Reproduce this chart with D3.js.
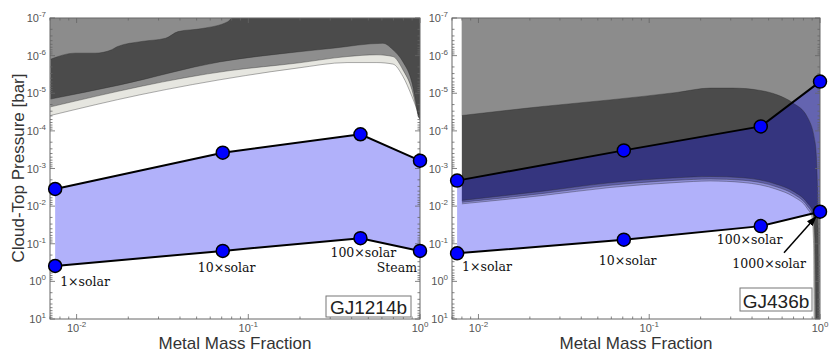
<!DOCTYPE html>
<html>
<head>
<meta charset="utf-8">
<script src="https://cdn.jsdelivr.net/npm/d3@7"></script>
<style>
  body { margin: 0; background: #fff; }
  svg { display: block; }
</style>
</head>
<body>
<svg id="chart" width="830" height="355"></svg>
<script>
// ---- data ----
const metalFraction = [0.0075, 0.071, 0.45, 1];

const gj1214Upper = [3.5e-3, 3.8e-4, 1.23e-4, 6.2e-4];
const gj1214Lower = [0.39, 0.155, 0.071, 0.155];
const gj436Upper = [2.1e-3, 3.3e-4, 7.6e-5, 4.9e-6];
const gj436Lower = [0.18, 0.078, 0.034, 0.0141];

const gj1214Labels = ['1×solar', '10×solar', '100×solar', 'Steam'];
const gj436Labels = ['1×solar', '10×solar', '100×solar', '1000×solar'];

const yTickExps = [-7, -6, -5, -4, -3, -2, -1, 0, 1];
const xTickExps = [-2, -1, 0];

// contour boundaries [metal fraction, pressure]; region above/right of each is that level
const gj1214Lvl1 = [[0.00705, 3.9e-5], [0.0234, 1.1e-5], [0.096, 3.4e-6], [0.192, 2.15e-6], [0.376, 1.53e-6], [0.561, 1.53e-6], [0.696, 1.68e-6], [0.796, 3.6e-6], [0.898, 1.22e-5], [0.96, 2.7e-5], [0.986, 3.9e-5], [1, 4.2e-5]];
const gj1214Lvl2 = [[0.00705, 2.3e-5], [0.078, 2.5e-6], [0.192, 1.58e-6], [0.376, 1.06e-6], [0.561, 9.5e-7], [0.696, 1.06e-6], [0.796, 2.4e-6], [0.898, 8.1e-6], [0.948, 2.2e-5], [0.986, 4.4e-5], [1, 4.6e-5]];
const gj1214Lvl3 = [[0.00705, 1.43e-5], [0.0179, 6e-6], [0.068, 1.47e-6], [0.192, 8e-7], [0.311, 6.35e-7], [0.608, 4.7e-7], [0.696, 7e-7], [0.796, 1.47e-6], [0.898, 5.3e-6], [0.948, 1.8e-5], [0.986, 4.5e-5], [1, 4.8e-5]];
const gj1214Lvl4 = [[0.00705, 1.25e-6], [0.0098, 8.6e-7], [0.0128, 8.6e-7], [0.016, 7e-7], [0.0172, 5.8e-7], [0.024, 4.2e-7], [0.033, 3.45e-7], [0.039, 2.3e-7], [0.054, 1.9e-7], [0.076, 1.25e-7], [0.08, 1e-7]];

const gj436Lvl1 = [[0.008, 8.7e-3], [0.0239, 5.2e-3], [0.0589, 3.2e-3], [0.1455, 2.35e-3], [0.227, 2.14e-3], [0.354, 2.35e-3], [0.56, 3.6e-3], [0.695, 5.5e-3], [0.841, 0.0115], [0.898, 0.02], [0.917, 0.1], [0.923, 10]];
const gj436Lvl2 = [[0.008, 7.9e-3], [0.0239, 4.6e-3], [0.0589, 2.8e-3], [0.1455, 2.05e-3], [0.227, 1.9e-3], [0.354, 2.05e-3], [0.56, 3.1e-3], [0.695, 4.7e-3], [0.841, 9.7e-3], [0.905, 0.017], [0.927, 0.09], [0.935, 10]];
const gj436Lvl3 = [[0.008, 7.05e-3], [0.0239, 4e-3], [0.0589, 2.4e-3], [0.1455, 1.76e-3], [0.227, 1.63e-3], [0.354, 1.76e-3], [0.56, 2.65e-3], [0.695, 4e-3], [0.841, 8.1e-3], [0.912, 0.0147], [0.936, 0.076], [0.948, 10]];
const gj436Lvl4 = [[0.008, 3.9e-5], [0.0239, 2.24e-5], [0.0589, 1.5e-5], [0.1455, 9.5e-6], [0.227, 7.3e-6], [0.309, 7.3e-6], [0.445, 8.4e-6], [0.56, 1.1e-5], [0.695, 1.82e-5], [0.841, 4.2e-5], [0.936, 2.05e-4], [0.962, 1.63e-3], [0.975, 0.041], [0.981, 10]];

// ---- styling / layout ----
const outsideColors = [null, '#e6e6e0', '#8e8e8e', '#4b4b4b', '#8c8c8c'];
const insideColors = ['#b1b1fa', '#9090da', '#5e5ea8', '#35357f', '#6464b0'];
const TOP = 18, BOTTOM = 319;

const panels = [
    {
        id: 'gj1214', name: 'GJ1214b', x0: 50, x1: 420,
        upper: gj1214Upper, lower: gj1214Lower, labels: gj1214Labels,
        levels: [gj1214Lvl1, gj1214Lvl2, gj1214Lvl3, gj1214Lvl4],
        labelOffsets: [[5, 20], [-25, 21], [-30, 19], [-3, 21]],
        labelAnchors: ['start', 'start', 'start', 'end'],
        box: [326, 296, 85, 21]
    },
    {
        id: 'gj436', name: 'GJ436b', x0: 452, x1: 820,
        upper: gj436Upper, lower: gj436Lower, labels: gj436Labels,
        levels: [gj436Lvl1, gj436Lvl2, gj436Lvl3, gj436Lvl4],
        labelOffsets: [[5, 18], [-25, 25], [-44, 18], [-14, 56]],
        labelAnchors: ['start', 'start', 'start', 'end'],
        box: [740, 288, 72, 23],
        arrow: true
    }
];

const svg = d3.select('#chart');
const defs = svg.append('defs');

defs.append('marker')
    .attr('id', 'arrowhead')
    .attr('viewBox', '0 0 10 10')
    .attr('refX', 9).attr('refY', 5)
    .attr('markerWidth', 7).attr('markerHeight', 7)
    .attr('orient', 'auto')
    .append('path')
    .attr('d', 'M0,1.5 L10,5 L0,8.5 Z')
    .attr('fill', '#000');

function supLabel(sel, e) {
    sel.append('tspan').text('10');
    sel.append('tspan').attr('dy', -5).attr('font-size', 8).text(e < 0 ? '-' + Math.abs(e) : String(e));
}

panels.forEach(function (p) {
    const x = d3.scaleLog().domain([0.007, 1]).range([p.x0, p.x1]);
    const y = d3.scaleLog().domain([1e-7, 10]).range([TOP, BOTTOM]);

    const g = svg.append('g');

    // blue region between the two cloud-top curves
    const upperPts = metalFraction.map((f, i) => [x(f), y(p.upper[i])]);
    const lowerPts = metalFraction.map((f, i) => [x(f), y(p.lower[i])]);
    const polyD = 'M' + upperPts.concat(lowerPts.slice().reverse()).map(d => d.join(',')).join('L') + 'Z';
    const rectD = `M${p.x0},${TOP}H${p.x1}V${BOTTOM}H${p.x0}Z`;

    defs.append('clipPath').attr('id', `plot-${p.id}`)
        .append('rect').attr('x', p.x0).attr('y', TOP)
        .attr('width', p.x1 - p.x0).attr('height', BOTTOM - TOP);
    defs.append('clipPath').attr('id', `in-${p.id}`)
        .append('path').attr('d', polyD);
    defs.append('clipPath').attr('id', `out-${p.id}`)
        .append('path').attr('d', rectD + polyD).attr('clip-rule', 'evenodd');

    const plot = g.append('g').attr('clip-path', `url(#plot-${p.id})`);
    plot.append('rect')
        .attr('x', p.x0).attr('y', TOP)
        .attr('width', p.x1 - p.x0).attr('height', BOTTOM - TOP)
        .attr('fill', '#fff');
    plot.append('path').attr('d', polyD).attr('fill', insideColors[0]);

    const curve = d3.line()
        .x(d => x(d[0]))
        .y(d => y(d[1]))
        .curve(d3.curveMonotoneX);

    const outG = plot.append('g').attr('clip-path', `url(#out-${p.id})`);
    const inG = plot.append('g').attr('clip-path', `url(#in-${p.id})`);

    p.levels.forEach(function (lvl, k) {
        const first = lvl[0], last = lvl[lvl.length - 1];
        const d = curve(lvl) +
            `L${x(1)},${y(last[1])}L${x(1)},${TOP}L${x(first[0])},${TOP}Z`;
        outG.append('path').attr('d', d).attr('fill', outsideColors[k + 1]);
        inG.append('path').attr('d', d).attr('fill', insideColors[k + 1]);
        plot.append('path').attr('d', curve(lvl))
            .attr('fill', 'none')
            .attr('stroke', '#2a2a2a')
            .attr('stroke-opacity', 0.55)
            .attr('stroke-width', 0.7);
    });

    // frame and ticks
    g.append('rect')
        .attr('x', p.x0).attr('y', TOP)
        .attr('width', p.x1 - p.x0).attr('height', BOTTOM - TOP)
        .attr('fill', 'none').attr('stroke', '#666').attr('stroke-width', 1);

    const isMajor = v => Math.abs(Math.log10(v) - Math.round(Math.log10(v))) < 1e-9;
    const ticks = g.append('g').attr('stroke', '#666').attr('stroke-width', 0.8);
    y.ticks().forEach(function (v) {
        const len = isMajor(v) ? 5 : 2.5;
        const yy = y(v);
        ticks.append('line').attr('x1', p.x0).attr('x2', p.x0 + len).attr('y1', yy).attr('y2', yy);
        ticks.append('line').attr('x1', p.x1).attr('x2', p.x1 - len).attr('y1', yy).attr('y2', yy);
    });
    x.ticks().forEach(function (v) {
        const len = isMajor(v) ? 5 : 2.5;
        const xx = x(v);
        ticks.append('line').attr('x1', xx).attr('x2', xx).attr('y1', BOTTOM).attr('y2', BOTTOM - len);
        ticks.append('line').attr('x1', xx).attr('x2', xx).attr('y1', TOP).attr('y2', TOP + len);
    });

    yTickExps.forEach(function (e) {
        g.append('text')
            .attr('x', p.x0 - 4).attr('y', y(Math.pow(10, e)) + 4)
            .attr('text-anchor', 'end')
            .attr('font-family', 'Liberation Sans, Arial, sans-serif')
            .attr('font-size', 11).attr('fill', '#555')
            .call(supLabel, e);
    });
    xTickExps.forEach(function (e) {
        g.append('text')
            .attr('x', x(Math.pow(10, e))).attr('y', BOTTOM + 13)
            .attr('text-anchor', 'middle')
            .attr('font-family', 'Liberation Sans, Arial, sans-serif')
            .attr('font-size', 11).attr('fill', '#555')
            .call(supLabel, e);
    });

    g.append('text')
        .attr('x', (p.x0 + p.x1) / 2).attr('y', 349)
        .attr('text-anchor', 'middle')
        .attr('font-family', 'Liberation Sans, Arial, sans-serif')
        .attr('font-size', 17).attr('fill', '#333')
        .text('Metal Mass Fraction');

    // planet name box
    g.append('rect')
        .attr('x', p.box[0]).attr('y', p.box[1])
        .attr('width', p.box[2]).attr('height', p.box[3])
        .attr('fill', '#fff').attr('stroke', '#777').attr('stroke-width', 1);
    g.append('text')
        .attr('x', p.box[0] + p.box[2] / 2).attr('y', p.box[1] + p.box[3] - 3.5)
        .attr('text-anchor', 'middle')
        .attr('font-family', 'Liberation Sans, Arial, sans-serif')
        .attr('font-size', 19).attr('fill', '#222')
        .text(p.name);

    // composition labels
    lowerPts.forEach(function (pt, i) {
        g.append('text')
            .attr('x', pt[0] + p.labelOffsets[i][0])
            .attr('y', pt[1] + p.labelOffsets[i][1])
            .attr('text-anchor', p.labelAnchors[i])
            .attr('font-family', 'DejaVu Serif, serif')
            .attr('font-size', 12.5).attr('fill', '#111')
            .text(p.labels[i]);
    });

    if (p.arrow) {
        const end = lowerPts[3];
        g.append('line')
            .attr('x1', end[0] - 36).attr('y1', end[1] + 41)
            .attr('x2', end[0] - 4).attr('y2', end[1] + 5)
            .attr('stroke', '#000').attr('stroke-width', 1.5)
            .attr('marker-end', 'url(#arrowhead)');
    }

    // cloud-top lines and points
    const line = d3.line();
    [upperPts, lowerPts].forEach(function (pts) {
        g.append('path').attr('d', line(pts))
            .attr('fill', 'none').attr('stroke', '#000').attr('stroke-width', 2);
        g.selectAll(null).data(pts).enter().append('circle')
            .attr('cx', d => d[0]).attr('cy', d => d[1])
            .attr('r', 6.5)
            .attr('fill', '#0000ff')
            .attr('stroke', '#000').attr('stroke-width', 1.5);
    });
});

svg.append('text')
    .attr('transform', 'translate(24,168) rotate(-90)')
    .attr('text-anchor', 'middle')
    .attr('font-family', 'Liberation Sans, Arial, sans-serif')
    .attr('font-size', 17).attr('fill', '#333')
    .text('Cloud-Top Pressure [bar]');
</script>
</body>
</html>
